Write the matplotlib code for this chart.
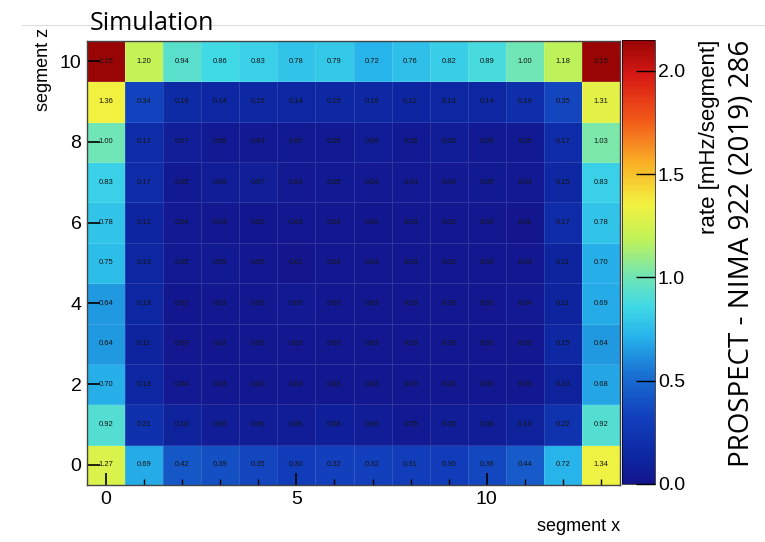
import numpy as np
import matplotlib
matplotlib.use('Agg')
import matplotlib.pyplot as plt
from matplotlib.lines import Line2D
from matplotlib.colors import LinearSegmentedColormap

# segment indices
seg_x = list(range(14))
seg_z = list(range(11))

# rate [mHz/segment], one list per z row (z = 0 ... 10), x = 0 ... 13
z0 = [1.27, 0.69, 0.42, 0.39, 0.35, 0.30, 0.32, 0.32, 0.31, 0.30, 0.36, 0.44, 0.72, 1.34]
z1 = [0.92, 0.21, 0.10, 0.06, 0.06, 0.06, 0.08, 0.06, 0.05, 0.06, 0.06, 0.10, 0.22, 0.92]
z2 = [0.70, 0.13, 0.04, 0.03, 0.03, 0.03, 0.03, 0.03, 0.03, 0.03, 0.03, 0.03, 0.10, 0.68]
z3 = [0.64, 0.11, 0.03, 0.02, 0.03, 0.03, 0.03, 0.03, 0.03, 0.03, 0.03, 0.03, 0.15, 0.64]
z4 = [0.64, 0.13, 0.02, 0.03, 0.03, 0.05, 0.03, 0.03, 0.03, 0.03, 0.03, 0.04, 0.11, 0.69]
z5 = [0.75, 0.13, 0.05, 0.05, 0.03, 0.01, 0.03, 0.03, 0.03, 0.03, 0.03, 0.03, 0.11, 0.70]
z6 = [0.78, 0.12, 0.04, 0.03, 0.02, 0.03, 0.03, 0.02, 0.03, 0.03, 0.03, 0.01, 0.17, 0.78]
z7 = [0.83, 0.17, 0.05, 0.06, 0.07, 0.04, 0.05, 0.04, 0.04, 0.04, 0.05, 0.04, 0.15, 0.83]
z8 = [1.00, 0.17, 0.07, 0.05, 0.04, 0.05, 0.05, 0.06, 0.05, 0.06, 0.05, 0.05, 0.17, 1.03]
z9 = [1.36, 0.34, 0.16, 0.14, 0.15, 0.14, 0.15, 0.15, 0.12, 0.14, 0.14, 0.19, 0.35, 1.31]
z10 = [2.15, 1.20, 0.94, 0.86, 0.83, 0.78, 0.79, 0.72, 0.76, 0.82, 0.89, 1.00, 1.18, 2.15]

rate = np.array([z0, z1, z2, z3, z4, z5, z6, z7, z8, z9, z10])

# softer jet-like palette, as in the original figure
pal = LinearSegmentedColormap.from_list('pal', [
    (0.00, (0.08, 0.08, 0.55)),
    (0.05, (0.05, 0.14, 0.62)),
    (0.15, (0.07, 0.25, 0.74)),
    (0.25, (0.10, 0.45, 0.83)),
    (0.33, (0.15, 0.70, 0.92)),
    (0.40, (0.25, 0.85, 0.90)),
    (0.47, (0.45, 0.90, 0.70)),
    (0.55, (0.75, 0.95, 0.35)),
    (0.63, (0.95, 0.95, 0.25)),
    (0.72, (0.98, 0.70, 0.15)),
    (0.82, (0.95, 0.35, 0.10)),
    (0.92, (0.85, 0.10, 0.08)),
    (1.00, (0.60, 0.02, 0.02))])

plt.rcParams['font.family'] = ['Liberation Sans', 'DejaVu Sans']

fig = plt.figure(figsize=(7.65, 5.42), dpi=100)
ax = fig.add_axes([87/765, 1-485/542, 533/765, 444/542])
cax = fig.add_axes([622/765, 1-484/542, 33/765, 444/542])

xe = np.arange(len(seg_x)+1) - 0.5
ze = np.arange(len(seg_z)+1) - 0.5
mesh = ax.pcolormesh(xe, ze, rate, cmap=pal, vmin=0, vmax=2.15,
                     edgecolors=(1, 1, 1, 0.12), linewidth=0.6)

for iz in seg_z:
    for ix in seg_x:
        ax.text(ix, iz, '%.2f' % rate[iz, ix], ha='center', va='center',
                fontsize=5.5, color='#151515')

ax.set_xlim(-0.5, 13.5)
ax.set_ylim(-0.5, 10.5)
ax.set_xticks([0, 5, 10])
ax.set_xticks(seg_x, minor=True)
ax.set_yticks([0, 2, 4, 6, 8, 10])
ax.tick_params(axis='both', which='major', direction='in', length=9, width=1.2,
               labelsize=14, pad=4)
ax.tick_params(axis='x', which='minor', direction='in', length=4, width=1)
ax.tick_params(axis='y', which='minor', left=False)
for s in ax.spines.values():
    s.set_linewidth(1)
    s.set_color('#444444')

ax.set_xlabel('segment x', fontsize=13, ha='right')
ax.xaxis.set_label_coords(1.0, -0.075)
ax.set_ylabel('segment z', fontsize=13, ha='right')
ax.yaxis.set_label_coords(-0.065, 1.03)

cb = fig.colorbar(mesh, cax=cax)
cb.set_ticks([0.0, 0.5, 1.0, 1.5, 2.0])
cb.ax.yaxis.set_major_formatter(matplotlib.ticker.FormatStrFormatter('%.1f'))
cb.ax.tick_params(direction='in', length=14, width=1, labelsize=14, pad=2)
cb.outline.set_linewidth(0.5)
cb.set_label('rate [mHz/segment]', fontsize=16, loc='top', labelpad=10)

fig.text(152/765, 1-23/542, 'Simulation', fontsize=18, ha='center', va='center',
         family=['Open Sans', 'DejaVu Sans'])
fig.add_artist(Line2D([22/765, 1.0], [1-25/542, 1-25/542], color='#dddddd',
                      lw=0.8, zorder=0))
fig.text(742/765, 1-253/542, 'PROSPECT - NIMA 922 (2019) 286', rotation=90,
         fontsize=20, ha='center', va='center', family=['Open Sans', 'DejaVu Sans'])

fig.savefig('out.png', dpi=100)
